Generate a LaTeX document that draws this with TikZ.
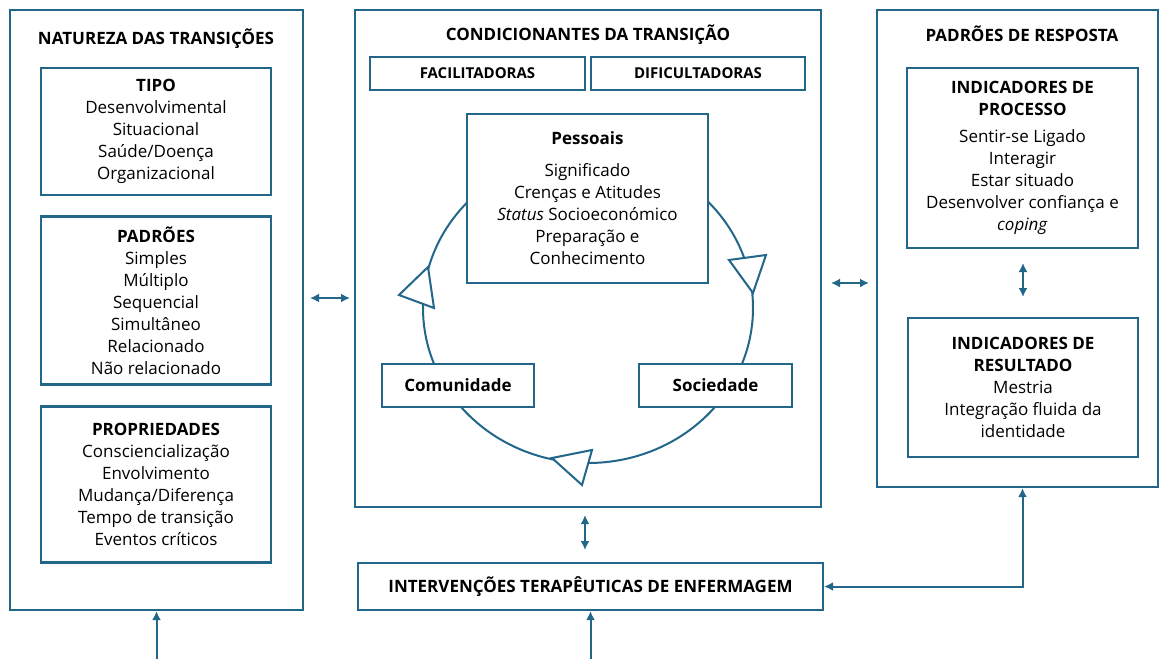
\documentclass[tikz,border=0pt]{standalone}
\usepackage{fontspec}
\setmainfont{Open Sans}
\usetikzlibrary{arrows.meta,calc}
\definecolor{tcol}{HTML}{22678A}
\tikzset{
  bx/.style={draw=tcol, line width=2.2pt, fill=white, inner sep=0pt, align=center,
    font=\fontsize{17}{22}\selectfont},
  tt/.style={font=\fontsize{17}{22}\selectfont\bfseries, inner sep=0pt},
  sm/.style={font=\fontsize{15}{18}\selectfont\bfseries},
  arr/.style={draw=tcol, line width=2pt, -{Latex[length=9pt,width=9pt]}},
  darr/.style={draw=tcol, line width=2pt, {Latex[length=9pt,width=9pt]}-{Latex[length=9pt,width=9pt]}},
  tri/.style={draw=tcol, line width=2pt, fill=white, line join=miter},
}
\begin{document}
\begin{tikzpicture}[x=1pt,y=-1pt]
\useasboundingbox (0,0) rectangle (1160,659);
% big boxes
\node[bx, minimum width=293pt, minimum height=600pt] (L) at (156.5,310) {};
\node[bx, minimum width=466pt, minimum height=497pt] (C) at (588,258.5) {};
\node[bx, minimum width=281pt, minimum height=477pt] (R) at (1017.5,248.5) {};
\node[tt] (Lt) at (156,39) {NATUREZA DAS TRANSIÇÕES};
\node[tt] (Ct) at (588,35) {CONDICIONANTES DA TRANSIÇÃO};
\node[tt] (Rt) at (1022,34) {PADRÕES DE RESPOSTA};
% left inner boxes
\node[bx, minimum width=230pt, minimum height=127pt] (tipo) at (156,131.5)
  {\textbf{TIPO}\\Desenvolvimental\\Situacional\\Saúde/Doença\\Organizacional};
\node[bx, minimum width=230pt, minimum height=168pt] (padr) at (156,300.5)
  {\textbf{PADRÕES}\\Simples\\Múltiplo\\Sequencial\\Simultâneo\\Relacionado\\Não relacionado};
\node[bx, minimum width=230pt, minimum height=156pt] (prop) at (156,484.5)
  {\textbf{PROPRIEDADES}\\Consciencialização\\Envolvimento\\Mudança/Diferença\\Tempo de transição\\Eventos críticos};
% center
\node[bx, sm, minimum width=215pt, minimum height=33pt] (fac) at (477.5,73.5) {FACILITADORAS};
\node[bx, sm, minimum width=214pt, minimum height=33pt] (dif) at (698,73.5) {DIFICULTADORAS};
% cycle
\draw[draw=tcol, line width=2pt] (588,308) ellipse [x radius=165, y radius=155];
\draw[tri] (729,260) -- (766,255) -- (753,293) -- cycle;
\draw[tri] (399,295) -- (428,267) -- (434,308) -- cycle;
\draw[tri] (552,458) -- (592,450) -- (582,485) -- cycle;
\node[bx, minimum width=241pt, minimum height=169pt] (pess) at (587.5,198.5)
  {\textbf{Pessoais}\\[10pt]Significado\\Crenças e Atitudes\\\textit{Status} Socioeconómico\\Preparação e\\Conhecimento};
\node[bx, minimum width=152pt, minimum height=43pt, font=\fontsize{17}{22}\selectfont\bfseries] (com) at (458,385.5) {Comunidade};
\node[bx, minimum width=153pt, minimum height=43pt, font=\fontsize{17}{22}\selectfont\bfseries] (soc) at (715.5,385.5) {Sociedade};
% right inner boxes
\node[bx, minimum width=231pt, minimum height=180pt] (proc) at (1022.5,158)
  {\textbf{INDICADORES DE}\\\textbf{PROCESSO}\\[5pt]Sentir-se Ligado\\Interagir\\Estar situado\\Desenvolver confiança e\\\textit{coping}};
\node[bx, minimum width=230pt, minimum height=139pt] (res) at (1023,387.5)
  {\textbf{INDICADORES DE}\\\textbf{RESULTADO}\\Mestria\\Integração fluida da\\identidade};
% intervention
\node[bx, minimum width=465pt, minimum height=47pt, font=\fontsize{17}{22}\selectfont\bfseries] (int) at (590.5,586.5) {INTERVENÇÕES TERAPÊUTICAS DE ENFERMAGEM};
% connectors
\coordinate (lc1) at (310,298); \coordinate (lc2) at (350,298);
\draw[darr] (lc1) -- (lc2);
\coordinate (cr1) at (831,283); \coordinate (cr2) at (869,283);
\draw[darr] (cr1) -- (cr2);
\coordinate (pr1) at (1023,263); \coordinate (pr2) at (1023,297);
\draw[darr] (pr1) -- (pr2);
\coordinate (ci1) at (585,515); \coordinate (ci2) at (585,550);
\draw[darr] (ci1) -- (ci2);
\coordinate (bl) at (156.5,659);
\draw[arr] (bl) -- (L.south);
\coordinate (bm) at (590.5,659);
\draw[arr] (bm) -- (int.south);
\draw[darr] (R.south -| proc.south) |- (int.east);
\end{tikzpicture}
\end{document}
